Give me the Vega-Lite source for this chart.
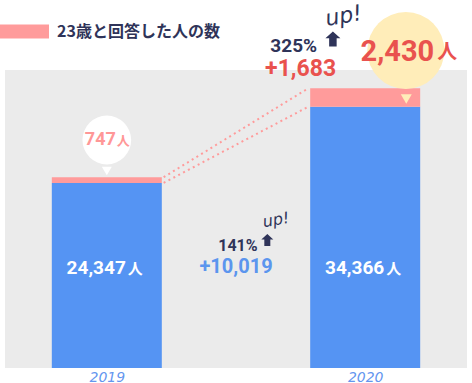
{
  "$schema": "https://vega.github.io/schema/vega-lite/v6.json",
  "width": 472,
  "height": 368,
  "padding": {"left": 0, "top": 0, "right": 0, "bottom": 15},
  "autosize": {"type": "none"},
  "background": "#ffffff",
  "config": {"view": {"stroke": null}, "font": "Roboto"},
  "datasets": {
    "bars": [
      {"year": 2019, "series": "全体", "count": 24347},
      {"year": 2019, "series": "23歳と回答した人の数", "count": 747},
      {"year": 2020, "series": "全体", "count": 34366},
      {"year": 2020, "series": "23歳と回答した人の数", "count": 2430}
    ]
  },
  "data": {"name": "bars"},
  "layer": [
    {
      "data": {"values": [{}]},
      "mark": {"type": "rect", "fill": "#ebebeb"},
      "encoding": {
        "x": {"datum": 2018.606, "type": "quantitative", "scale": {"domain": [2018.606, 2020.394], "nice": false, "zero": false}},
        "x2": {"datum": 2020.394},
        "y": {"datum": 39193, "type": "quantitative", "scale": {"domain": [0, 48400], "nice": false, "zero": true}, "axis": null},
        "y2": {"datum": 0}
      }
    },
    {
      "data": {"values": [{}]},
      "mark": {"type": "rule", "stroke": "#ff9b9b", "strokeWidth": 2, "strokeDash": [2, 3.5]},
      "encoding": {
        "x": {"datum": 2019.22, "type": "quantitative"},
        "x2": {"datum": 2019.78},
        "y": {"datum": 25094, "type": "quantitative", "axis": null},
        "y2": {"datum": 36796}
      }
    },
    {
      "data": {"values": [{}]},
      "mark": {"type": "rule", "stroke": "#ff9b9b", "strokeWidth": 2, "strokeDash": [2, 3.5]},
      "encoding": {
        "x": {"datum": 2019.22, "type": "quantitative"},
        "x2": {"datum": 2019.78},
        "y": {"datum": 24347, "type": "quantitative", "axis": null},
        "y2": {"datum": 34366}
      }
    },
    {
      "mark": {"type": "bar", "width": 110},
      "encoding": {
        "x": {
          "field": "year", "type": "quantitative",
          "scale": {"domain": [2018.606, 2020.394], "nice": false, "zero": false},
          "axis": {"values": [2019, 2020], "format": "d", "title": null, "ticks": false, "domain": false, "grid": false,
                   "labelFont": "DejaVu Sans", "labelFontStyle": "italic", "labelFontSize": 14, "labelColor": "#6496ef", "labelPadding": 2}
        },
        "y": {"field": "count", "type": "quantitative", "stack": "zero", "scale": {"domain": [0, 48400], "nice": false, "zero": true}, "axis": null},
        "color": {
          "field": "series", "type": "nominal",
          "scale": {"domain": ["全体", "23歳と回答した人の数"], "range": ["#5594f3", "#ff9b9b"]},
          "legend": {
            "orient": "none", "legendX": 0, "legendY": 7, "values": ["23歳と回答した人の数"], "title": null,
            "symbolType": "M-1,-0.2857H1V0.2857H-1Z", "symbolSize": 2401, "symbolStrokeWidth": 0, "symbolOpacity": 1,
            "labelFont": "Noto Sans CJK JP", "labelFontSize": 16, "labelFontWeight": "bold", "labelColor": "#2f3459",
            "labelOffset": 8, "labelLimit": 400, "padding": 0
          }
        },
        "order": {"field": "series", "sort": "descending"}
      }
    },
    {
      "transform": [{"filter": "datum.series === '全体'"}],
      "mark": {"type": "text", "align": "right", "baseline": "middle", "dx": 19, "font": "Roboto", "fontSize": 19, "fontWeight": "bold", "fill": "#ffffff"},
      "encoding": {
        "x": {"field": "year", "type": "quantitative"},
        "y": {"datum": 13152, "type": "quantitative"},
        "text": {"field": "count", "type": "quantitative", "format": ","}
      }
    },
    {
      "transform": [{"filter": "datum.series === '全体'"}],
      "mark": {"type": "text", "align": "left", "baseline": "middle", "dx": 21, "dy": 1, "font": "Noto Sans CJK JP", "fontSize": 15, "fontWeight": "bold", "fill": "#ffffff"},
      "encoding": {
        "x": {"field": "year", "type": "quantitative"},
        "y": {"datum": 13152, "type": "quantitative"},
        "text": {"value": "人"}
      }
    },
    {
      "data": {"values": [{}]},
      "mark": {"type": "point", "shape": "circle", "filled": true, "fill": "#ffffff", "size": 2376, "opacity": 1, "strokeWidth": 0},
      "encoding": {"x": {"datum": 2019, "type": "quantitative"}, "y": {"datum": 29987, "type": "quantitative"}}
    },
    {
      "data": {"values": [{}]},
      "mark": {"type": "point", "shape": "triangle-down", "filled": true, "fill": "#ffffff", "size": 100, "opacity": 1, "strokeWidth": 0},
      "encoding": {"x": {"datum": 2019, "type": "quantitative"}, "y": {"datum": 25909, "type": "quantitative"}}
    },
    {
      "data": {"values": [{}]},
      "mark": {"type": "point", "shape": "circle", "filled": true, "fill": "#ffedb9", "size": 5945, "opacity": 1, "strokeWidth": 0},
      "encoding": {"x": {"datum": 2020.1572, "type": "quantitative"}, "y": {"datum": 41758, "type": "quantitative"}}
    },
    {
      "data": {"values": [{}]},
      "mark": {"type": "point", "shape": "triangle-down", "filled": true, "fill": "#ffedb9", "size": 121, "opacity": 1, "strokeWidth": 0},
      "encoding": {"x": {"datum": 2020.159, "type": "quantitative"}, "y": {"datum": 35379, "type": "quantitative"}}
    },
    {
      "transform": [{"filter": "datum.series !== '全体' && datum.year === 2019"}],
      "mark": {"type": "text", "align": "right", "baseline": "middle", "dx": 9, "font": "Roboto", "fontSize": 18, "fontWeight": "bold", "fill": "#ff9797"},
      "encoding": {
        "x": {"field": "year", "type": "quantitative"},
        "y": {"datum": 29987, "type": "quantitative"},
        "text": {"field": "count", "type": "quantitative", "format": ","}
      }
    },
    {
      "transform": [{"filter": "datum.series !== '全体' && datum.year === 2019"}],
      "mark": {"type": "text", "align": "left", "baseline": "middle", "dx": 10, "dy": 1, "font": "Noto Sans CJK JP", "fontSize": 13, "fontWeight": "bold", "fill": "#ff9797"},
      "encoding": {
        "x": {"field": "year", "type": "quantitative"},
        "y": {"datum": 29987, "type": "quantitative"},
        "text": {"value": "人"}
      }
    },
    {
      "transform": [{"filter": "datum.series !== '全体' && datum.year === 2020"}],
      "mark": {"type": "text", "align": "right", "baseline": "middle", "dx": 69, "font": "Roboto", "fontSize": 29, "fontWeight": "bold", "fill": "#e9524e"},
      "encoding": {
        "x": {"field": "year", "type": "quantitative"},
        "y": {"datum": 41560, "type": "quantitative"},
        "text": {"field": "count", "type": "quantitative", "format": ","}
      }
    },
    {
      "transform": [{"filter": "datum.series !== '全体' && datum.year === 2020"}],
      "mark": {"type": "text", "align": "left", "baseline": "middle", "dx": 72, "dy": 1, "font": "Noto Sans CJK JP", "fontSize": 20, "fontWeight": "bold", "fill": "#e9524e"},
      "encoding": {
        "x": {"field": "year", "type": "quantitative"},
        "y": {"datum": 41560, "type": "quantitative"},
        "text": {"value": "人"}
      }
    },
    {
      "data": {"values": [{}]},
      "mark": {"type": "text", "text": "141%", "align": "center", "baseline": "middle", "font": "Roboto", "fontSize": 16, "fontWeight": "bold", "fill": "#2f3459"},
      "encoding": {"x": {"datum": 2019.5075, "type": "quantitative"}, "y": {"datum": 16045, "type": "quantitative"}}
    },
    {
      "data": {"values": [{}]},
      "mark": {"type": "text", "text": "+10,019", "align": "center", "baseline": "middle", "font": "Roboto", "fontSize": 20, "fontWeight": "bold", "fill": "#5b95ee"},
      "encoding": {"x": {"datum": 2019.5, "type": "quantitative"}, "y": {"datum": 13283, "type": "quantitative"}}
    },
    {
      "data": {"values": [{}]},
      "mark": {"type": "point", "shape": "M0,-1L1,-0.1L0.5,-0.1L0.5,1L-0.5,1L-0.5,-0.1L-1,-0.1Z", "filled": true, "fill": "#2f3459", "size": 144, "opacity": 1, "strokeWidth": 0},
      "encoding": {"x": {"datum": 2019.6212, "type": "quantitative"}, "y": {"datum": 16834, "type": "quantitative"}}
    },
    {
      "data": {"values": [{}]},
      "mark": {"type": "text", "text": "up!", "align": "center", "baseline": "middle", "angle": -10, "font": "DejaVu Sans", "fontStyle": "italic", "fontSize": 16, "fill": "#2f3459"},
      "encoding": {"x": {"datum": 2019.6552, "type": "quantitative"}, "y": {"datum": 19465, "type": "quantitative"}}
    },
    {
      "data": {"values": [{}]},
      "mark": {"type": "text", "text": "325%", "align": "center", "baseline": "middle", "font": "Roboto", "fontSize": 19, "fontWeight": "bold", "fill": "#2f3459"},
      "encoding": {"x": {"datum": 2019.7234, "type": "quantitative"}, "y": {"datum": 42349, "type": "quantitative"}}
    },
    {
      "data": {"values": [{}]},
      "mark": {"type": "point", "shape": "M0,-1L1,-0.1L0.5,-0.1L0.5,1L-0.5,1L-0.5,-0.1L-1,-0.1Z", "filled": true, "fill": "#2f3459", "size": 225, "opacity": 1, "strokeWidth": 0},
      "encoding": {"x": {"datum": 2019.875, "type": "quantitative"}, "y": {"datum": 43270, "type": "quantitative"}}
    },
    {
      "data": {"values": [{}]},
      "mark": {"type": "text", "text": "up!", "align": "center", "baseline": "middle", "angle": -10, "font": "DejaVu Sans", "fontStyle": "italic", "fontSize": 22, "fill": "#2f3459"},
      "encoding": {"x": {"datum": 2019.9167, "type": "quantitative"}, "y": {"datum": 46300, "type": "quantitative"}}
    },
    {
      "data": {"values": [{}]},
      "mark": {"type": "text", "text": "+1,683", "align": "center", "baseline": "middle", "font": "Roboto", "fontSize": 23, "fontWeight": "bold", "fill": "#e9524e"},
      "encoding": {"x": {"datum": 2019.75, "type": "quantitative"}, "y": {"datum": 39324, "type": "quantitative"}}
    }
  ]
}
